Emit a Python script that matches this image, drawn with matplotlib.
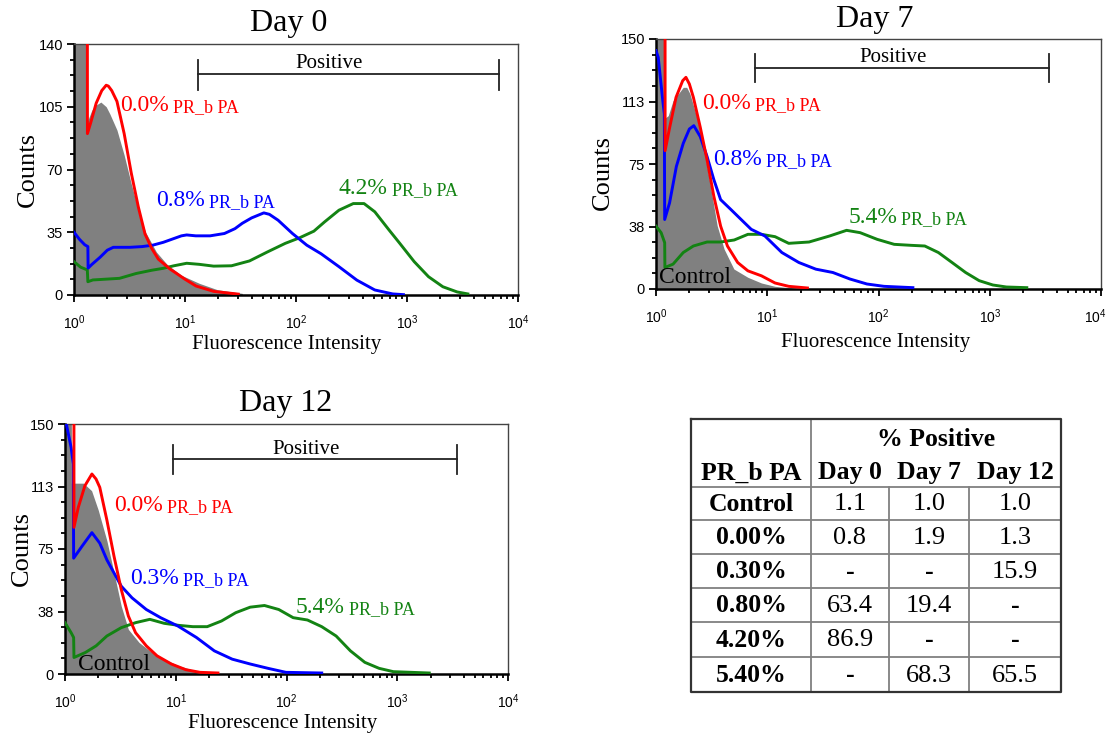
import matplotlib
matplotlib.use('Agg')
import numpy as np
import matplotlib.pyplot as plt
import matplotlib.transforms as mtransforms
from matplotlib.ticker import FixedLocator, FixedFormatter, MultipleLocator, NullFormatter, LogLocator

SERIF = 'Liberation Serif'
SANS = 'Liberation Sans'
RED, BLUE, GREEN, GRAY = '#ff0000', '#0000ff', '#138313', '#808080'

# ---------------- data (x as log10 fluorescence, y as counts) ----------------
# Day 0
d0_ctrl_logx = [0, 0.118, 0.122, 0.16, 0.20, 0.242, 0.29, 0.323, 0.387, 0.452, 0.516, 0.581, 0.645, 0.742, 0.839, 0.968, 1.129, 1.29, 1.516]
d0_ctrl_cnt = [400, 400, 97, 103, 106, 107.6, 105, 101, 92, 78, 62, 47, 35, 24, 17, 11, 6.5, 3, 0.9]
d0_red_logx = [0.118, 0.121, 0.15, 0.20, 0.25, 0.29, 0.31, 0.34, 0.387, 0.452, 0.516, 0.58, 0.64, 0.70, 0.76, 0.865, 1.00, 1.10, 1.26, 1.48]
d0_red_cnt = [400, 90, 96, 107, 114, 117, 116.5, 114, 108, 90, 68, 49, 34, 26, 20, 14.5, 8.8, 5, 2, 0.5]
d0_blue_logx = [0, 0.05, 0.097, 0.125, 0.127, 0.16, 0.234, 0.30, 0.354, 0.452, 0.505, 0.613, 0.71, 0.805, 0.90, 0.968, 1.015, 1.097, 1.226, 1.355, 1.45, 1.516, 1.60, 1.71, 1.76, 1.839, 1.968, 2.097, 2.226, 2.387, 2.548, 2.71, 2.871, 2.968]
d0_blue_cnt = [35, 31, 28, 27, 15, 17, 21, 25, 26.6, 26.6, 26.6, 27, 27.8, 29.4, 31.5, 33, 33.5, 33, 33, 34.3, 37, 40, 43, 45.8, 45, 41.7, 34.3, 27.8, 23, 15.8, 8.3, 2.8, 0.6, 0.2]
d0_green_logx = [0, 0.06, 0.12, 0.125, 0.17, 0.226, 0.41, 0.56, 0.70, 0.805, 0.9, 1.015, 1.129, 1.258, 1.419, 1.581, 1.742, 1.903, 2.032, 2.161, 2.258, 2.387, 2.516, 2.613, 2.71, 2.839, 2.935, 3.065, 3.194, 3.323, 3.452, 3.548]
d0_green_cnt = [18.6, 15.5, 14, 7.4, 8.4, 8.6, 9.3, 12, 13.8, 14.9, 16.3, 17.7, 17.1, 16.1, 16.3, 19, 24, 28.8, 31.9, 35.6, 40.8, 47.3, 51, 51, 46.4, 36.2, 28.8, 18.6, 10.2, 4.6, 1.7, 0.6]

# Day 7
d7_ctrl_logx = [0, 0.066, 0.07, 0.11, 0.153, 0.245, 0.276, 0.306, 0.367, 0.428, 0.489, 0.55, 0.612, 0.70, 0.826, 0.948, 1.07, 1.254]
d7_ctrl_cnt = [400, 400, 102, 104, 113, 121, 121, 117, 103, 85, 62, 38, 24, 12, 7, 3.6, 1.6, 0.4]
d7_red_logx = [0.08, 0.082, 0.12, 0.18, 0.24, 0.269, 0.30, 0.336, 0.398, 0.459, 0.52, 0.581, 0.642, 0.734, 0.826, 0.948, 1.07, 1.193, 1.361]
d7_red_cnt = [400, 83, 96, 115, 125, 127, 123, 115, 97, 77.5, 55.6, 37.7, 25.8, 15.9, 10.9, 7.9, 3.6, 1.6, 0.6]
d7_blue_logx = [0.0, 0.02, 0.061, 0.075, 0.078, 0.122, 0.183, 0.245, 0.30, 0.34, 0.398, 0.459, 0.52, 0.581, 0.673, 0.765, 0.856, 0.979, 1.131, 1.284, 1.437, 1.59, 1.743, 1.896, 2.049, 2.309]
d7_blue_cnt = [143, 139, 113, 105, 41.7, 51.7, 73.5, 87.4, 96, 98, 91.4, 79.5, 65.6, 53.6, 47.7, 41.7, 35.8, 31.8, 21.9, 15.9, 11.9, 9.9, 6, 3, 1.6, 0.8]
d7_green_logx = [0, 0.046, 0.078, 0.08, 0.153, 0.245, 0.336, 0.459, 0.581, 0.703, 0.826, 0.948, 1.07, 1.193, 1.376, 1.56, 1.713, 1.835, 1.988, 2.141, 2.294, 2.416, 2.538, 2.661, 2.783, 2.905, 3.028, 3.15, 3.333]
d7_green_cnt = [37.7, 33.8, 27.8, 12.9, 14.9, 21.9, 25.8, 28.2, 28.2, 29.4, 32.8, 32.8, 31.4, 27.4, 28.2, 31.8, 35.2, 33.8, 29.8, 26.8, 26.2, 25.8, 21.9, 15.9, 9.9, 5, 2.4, 1.2, 0.8]

# Day 12
d12_ctrl_logx = [0, 0.055, 0.058, 0.166, 0.24, 0.30, 0.378, 0.443, 0.508, 0.572, 0.669, 0.766, 0.896, 1.025, 1.154, 1.284]
d12_ctrl_cnt = [400, 400, 114.5, 114.5, 110, 98.4, 80, 60.6, 40.7, 26.8, 18.9, 13.9, 8.9, 5, 2.4, 1]
d12_red_logx = [0.08, 0.081, 0.12, 0.18, 0.243, 0.28, 0.314, 0.378, 0.443, 0.508, 0.572, 0.637, 0.734, 0.831, 0.96, 1.09, 1.219, 1.381]
d12_red_cnt = [400, 88, 100, 113, 120, 117, 112, 92.4, 70.5, 50.7, 34.8, 24.8, 16.9, 10.9, 6, 2.6, 1, 0.6]
d12_blue_logx = [0.0, 0.015, 0.055, 0.075, 0.078, 0.152, 0.243, 0.314, 0.378, 0.443, 0.508, 0.605, 0.734, 0.863, 1.019, 1.187, 1.348, 1.51, 1.672, 1.833, 1.995, 2.318]
d12_blue_cnt = [152, 149, 136, 126, 69.5, 76.5, 84.8, 78.5, 68.5, 60.6, 52.7, 45.7, 38.7, 33.8, 28.8, 21.9, 13.9, 8.9, 6, 3.4, 1, 0.6]
d12_green_logx = [0, 0.055, 0.078, 0.081, 0.184, 0.281, 0.378, 0.508, 0.637, 0.766, 0.896, 1.025, 1.154, 1.284, 1.413, 1.542, 1.672, 1.801, 1.93, 2.06, 2.189, 2.318, 2.448, 2.577, 2.707, 2.836, 2.965, 3.289]
d12_green_cnt = [30.8, 24.8, 21.9, 9.9, 12.9, 16.9, 22.8, 27.8, 30.8, 32.8, 30.4, 29.2, 28.4, 28.4, 31.8, 36.8, 40.1, 41.1, 38.7, 33.8, 32.4, 28.4, 22.8, 13.9, 7, 3.4, 1.4, 0.6]

# Positive gates (log10 low, log10 high, counts level)
d0_gate = (1.113, 3.829, 123)
d7_gate = (0.893, 3.532, 132.5)
d12_gate = (0.977, 3.541, 129)

# Labels
d0_pcts = ['0.0%', '0.8%', '4.2%']
d7_pcts = ['0.0%', '0.8%', '5.4%']
d12_pcts = ['0.0%', '0.3%', '5.4%']
treat_name = 'PR_b PA'

# Y ticks
d0_yticks = [0, 35, 70, 105, 140]
d0_yticklabels = ['0', '35', '70', '105', '140']
d7_yticks = [0, 37.5, 75, 112.5, 150]
d7_yticklabels = ['0', '38', '75', '113', '150']

# Table
table_rows = ['Control', '0.00%', '0.30%', '0.80%', '4.20%', '5.40%']
table_cols = ['Day 0', 'Day 7', 'Day 12']
table_vals = [['1.1', '1.0', '1.0'],
              ['0.8', '1.9', '1.3'],
              ['-', '-', '15.9'],
              ['63.4', '19.4', '-'],
              ['86.9', '-', '-'],
              ['-', '68.3', '65.5']]

# ---------------- figure ----------------
W, H = 1110, 736
fig = plt.figure(figsize=(W / 100, H / 100), dpi=100)


def px_axes(l, t, r, b):
    return fig.add_axes([l / W, 1 - b / H, (r - l) / W, (b - t) / H])


def panel(ax, title, title_x, ymax, yticks, yticklabels, ctrl, curves, gate, gate_ticks,
          pos_text, labels, control_pos, ylab, xlab):
    ax.set_xscale('log')
    ax.set_xlim(1, 1e4)
    ax.set_ylim(0, ymax)
    cx, cy = ctrl
    ax.fill_between(10 ** np.array(cx), cy, 0, color=GRAY, lw=0, zorder=1)
    for (lx, ly, col) in curves:
        ax.plot(10 ** np.array(lx), ly, color=col, lw=2.1, solid_joinstyle='round', zorder=3)
    lo, hi, gy = gate
    t0, t1 = gate_ticks
    ax.plot([10 ** lo, 10 ** hi], [gy, gy], color='#222222', lw=1.3, zorder=4)
    for gx in (lo, hi):
        ax.plot([10 ** gx, 10 ** gx], [t0, t1], color='#222222', lw=1.3, zorder=4)
    ax.text(10 ** pos_text[0], pos_text[1], 'Positive', fontsize=15, family=SERIF,
            ha='center', va='center', zorder=5)
    for (pct, lx, ly, col) in labels:
        t = ax.text(10 ** lx, ly, pct, fontsize=17, family=SERIF, color=col,
                    ha='left', va='center', zorder=5)
        ax.annotate(treat_name, xy=(1, 0), xycoords=t, xytext=(3, 0),
                    textcoords='offset points', fontsize=13, family=SERIF,
                    color=col, ha='left', va='bottom', zorder=5)
    if control_pos is not None:
        ax.text(10 ** control_pos[0], control_pos[1], 'Control', fontsize=17,
                family=SERIF, color='black', ha='left', va='center', zorder=5)
    ax.set_title(title, fontsize=23, family=SERIF, pad=9, x=title_x)
    ax.set_ylabel('Counts', fontsize=19, family=SERIF)
    ax.yaxis.set_label_coords(*ylab)
    ax.set_xlabel('Fluorescence Intensity', fontsize=15, family=SERIF)
    ax.xaxis.set_label_coords(*xlab)
    ax.yaxis.set_major_locator(FixedLocator(yticks))
    ax.yaxis.set_major_formatter(FixedFormatter(yticklabels))
    ax.yaxis.set_minor_locator(MultipleLocator(ymax / 16))
    ax.xaxis.set_major_locator(LogLocator(base=10, numticks=10))
    ax.xaxis.set_minor_locator(LogLocator(base=10, subs=np.arange(2, 10), numticks=10))
    ax.xaxis.set_minor_formatter(NullFormatter())
    ax.tick_params(which='both', direction='out', top=False, right=False,
                   labelsize=10.5, labelfontfamily=SANS, width=1.3, color='black')
    ax.tick_params(which='major', length=5)
    ax.tick_params(which='minor', length=3)
    ax.tick_params(axis='y', which='major', pad=3)
    ax.tick_params(axis='x', which='major', pad=8, labelsize=10)
    for s in ('left', 'bottom'):
        ax.spines[s].set_linewidth(1.8)
        ax.spines[s].set_color('black')
    for s in ('top', 'right'):
        ax.spines[s].set_linewidth(1.0)
        ax.spines[s].set_color('#444444')


ax0 = px_axes(74, 44, 518, 295)
panel(ax0, 'Day 0', 0.484, 140, d0_yticks, d0_yticklabels,
      (d0_ctrl_logx, d0_ctrl_cnt),
      [(d0_green_logx, d0_green_cnt, GREEN), (d0_blue_logx, d0_blue_cnt, BLUE),
       (d0_red_logx, d0_red_cnt, RED)],
      d0_gate, (114.5, 131.2), (2.3, 129.3),
      [(d0_pcts[0], 0.419, 105.7, RED), (d0_pcts[1], 0.742, 52.9, BLUE),
       (d0_pcts[2], 2.387, 59.4, GREEN)],
      None, (-0.08, 0.50), (0.478, -0.159))

ax7 = px_axes(656, 39, 1101, 289)
panel(ax7, 'Day 7', 0.492, 150, d7_yticks, d7_yticklabels,
      (d7_ctrl_logx, d7_ctrl_cnt),
      [(d7_green_logx, d7_green_cnt, GREEN), (d7_blue_logx, d7_blue_cnt, BLUE),
       (d7_red_logx, d7_red_cnt, RED)],
      d7_gate, (124.2, 141), (2.13, 138.7),
      [(d7_pcts[0], 0.413, 111.3, RED), (d7_pcts[1], 0.514, 77.5, BLUE),
       (d7_pcts[2], 1.728, 42.7, GREEN)],
      (0.031, 7), (-0.094, 0.464), (0.494, -0.178))

ax12 = px_axes(65, 424, 508, 674)
panel(ax12, 'Day 12', 0.497, 150, d7_yticks, d7_yticklabels,
      (d12_ctrl_logx, d12_ctrl_cnt),
      [(d12_green_logx, d12_green_cnt, GREEN), (d12_blue_logx, d12_blue_cnt, BLUE),
       (d12_red_logx, d12_red_cnt, RED)],
      d12_gate, (120.2, 137.7), (2.18, 135),
      [(d12_pcts[0], 0.443, 101.3, RED), (d12_pcts[1], 0.589, 57, BLUE),
       (d12_pcts[2], 2.086, 39.7, GREEN)],
      (0.12, 6), (-0.072, 0.50), (0.492, -0.159))

# ---------------- table ----------------
tax = fig.add_axes([0, 0, 1, 1])
tax.set_xlim(0, W)
tax.set_ylim(H, 0)
tax.axis('off')
col_x = [691, 811, 889, 969, 1061]
row_y = [419, 487, 520, 554, 588, 622, 657, 692]
inner = dict(color='#808080', lw=1.3)
for y in row_y[1:-1]:
    tax.plot([col_x[0], col_x[-1]], [y, y], **inner)
tax.plot([col_x[1], col_x[1]], [row_y[0], row_y[-1]], **inner)
for x in col_x[2:-1]:
    tax.plot([x, x], [row_y[1], row_y[-1]], **inner)
tax.plot([col_x[0], col_x[-1], col_x[-1], col_x[0], col_x[0]],
         [row_y[0], row_y[0], row_y[-1], row_y[-1], row_y[0]], color='#333333', lw=1.6)

bold = dict(fontsize=18.5, family=SERIF, fontweight='bold', ha='center', va='center')
tax.text((col_x[1] + col_x[-1]) / 2, 439, '% Positive', **bold)
tax.text((col_x[0] + col_x[1]) / 2, 473, treat_name, **bold)
for j, c in enumerate(table_cols):
    tax.text((col_x[j + 1] + col_x[j + 2]) / 2, 473, c, **bold)
for i, r in enumerate(table_rows):
    yc = (row_y[i + 1] + row_y[i + 2]) / 2 + 1
    tax.text((col_x[0] + col_x[1]) / 2, yc, r, **bold)
    for j, v in enumerate(table_vals[i]):
        xc = (col_x[j + 1] + col_x[j + 2]) / 2
        if v == '-':
            tax.text(xc, yc, v, **bold)
        else:
            tax.text(xc, yc, v, fontsize=19, family=SERIF, ha='center', va='center')

# keep the Day 7 "10^4" tick label inside the figure edge
fig.canvas.draw()
shift = mtransforms.ScaledTranslation(-6 / 100, 0, fig.dpi_scale_trans)
for tick in ax7.xaxis.get_major_ticks():
    if abs(tick.get_loc() - 1e4) < 1:
        tick.label1.set_transform(tick.label1.get_transform() + shift)

fig.savefig('out.png', dpi=100)
